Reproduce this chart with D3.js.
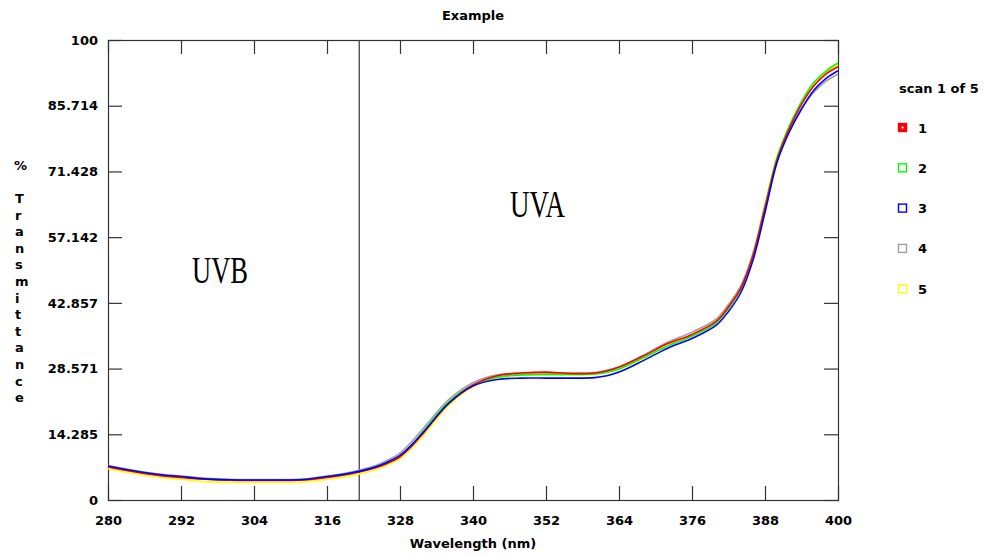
<!DOCTYPE html>
<html>
<head>
<meta charset="utf-8">
<title>Example</title>
<script src="https://cdn.jsdelivr.net/npm/d3@7"></script>
<style>
    body { margin: 0; background: #fff; }
    text { font-family: "DejaVu Sans", sans-serif; font-weight: bold; font-size: 13px; fill: #000; }
    .band { font-family: "Liberation Serif", serif; font-weight: normal; font-size: 38px; }
</style>
</head>
<body>
<script>
// wavelength grid (nm) shared by all scans
var wavelengths = [280, 284, 288, 292, 296, 300, 304, 308, 312, 316, 320, 324, 326, 328, 330, 332, 336, 340, 344, 348,
    352, 356, 360, 362, 364, 368, 372, 376, 380, 382, 384, 386, 388, 390, 392, 394, 396, 398, 400];

// % transmittance for each scan
var scan1 = [7.2, 6.2, 5.4, 4.9, 4.5, 4.3, 4.25, 4.25, 4.35, 4.9, 5.7, 7.0, 8.0, 9.4, 11.8, 14.8, 21.0, 25.0, 27.0, 27.6,
    27.8, 27.5, 27.6, 28.1, 28.9, 31.3, 34.0, 36.0, 38.9, 42.0, 46.0, 53.0, 63.5, 74.0, 80.8, 86.0, 90.0, 92.6, 94.2];
var scan2 = [7.3, 6.3, 5.5, 5.0, 4.5, 4.3, 4.3, 4.3, 4.35, 5.0, 5.8, 7.1, 8.2, 9.6, 12.1, 15.2, 21.3, 25.0, 26.7, 27.2,
    27.3, 27.3, 27.4, 27.8, 28.5, 30.9, 33.5, 35.6, 38.5, 41.7, 45.8, 53.0, 63.8, 74.5, 81.3, 86.6, 90.7, 93.2, 95.0];
var scan3 = [7.4, 6.4, 5.6, 5.1, 4.6, 4.4, 4.35, 4.35, 4.45, 5.1, 5.9, 7.2, 8.3, 9.7, 12.1, 15.0, 21.0, 24.8, 26.2, 26.5,
    26.5, 26.5, 26.6, 27.0, 27.8, 30.3, 33.0, 35.1, 38.0, 41.0, 45.0, 52.0, 62.5, 73.5, 80.0, 85.0, 89.0, 91.6, 93.3];
var scan4 = [7.5, 6.5, 5.7, 5.2, 4.7, 4.5, 4.45, 4.45, 4.55, 5.2, 6.1, 7.5, 8.7, 10.2, 12.8, 15.8, 21.8, 25.5, 27.2, 27.6,
    27.6, 27.6, 27.7, 28.2, 28.9, 31.5, 34.3, 36.5, 39.4, 42.5, 46.5, 53.5, 64.0, 74.0, 80.3, 85.0, 88.6, 91.0, 92.6];
var scan5 = [6.8, 5.8, 5.0, 4.5, 4.0, 3.85, 3.8, 3.8, 3.9, 4.5, 5.3, 6.6, 7.7, 9.0, 11.4, 14.3, 20.5, 24.6, 26.6, 27.1,
    27.2, 27.2, 27.3, 27.7, 28.4, 30.8, 33.6, 35.7, 38.7, 42.0, 46.2, 53.5, 64.3, 74.8, 81.2, 86.2, 90.2, 92.8, 94.5];

var scanNames = ["1", "2", "3", "4", "5"];
var scanColors = ["#ff0000", "#00ff00", "#0000ff", "#a0a0a0", "#ffff00"];
var drawOrder = [4, 3, 1, 0, 2];

// axis ticks as printed
var xTicks = [280, 292, 304, 316, 328, 340, 352, 364, 376, 388, 400];
var yTicks = [0, 14.285, 28.571, 42.857, 57.142, 71.428, 85.714, 100];
var yTickLabels = ["0", "14.285", "28.571", "42.857", "57.142", "71.428", "85.714", "100"];

// UVB / UVA boundary (nm)
var uvBoundary = 321.3;

setChart();

function setChart() {
    var width = 985,
        height = 555;

    var margin = { left: 108, right: 147, top: 40, bottom: 55 };
    var innerW = width - margin.left - margin.right,
        innerH = height - margin.top - margin.bottom;

    var svg = d3.select("body")
        .append("svg")
        .attr("width", width)
        .attr("height", height);

    var x = d3.scaleLinear().domain([280, 400]).range([margin.left, margin.left + innerW]);
    var y = d3.scaleLinear().domain([0, 100]).range([margin.top + innerH, margin.top]);

    // title
    svg.append("text")
        .attr("x", 473)
        .attr("y", 20)
        .attr("text-anchor", "middle")
        .text("Example");

    // plot frame
    svg.append("rect")
        .attr("x", margin.left + 0.5)
        .attr("y", margin.top + 0.5)
        .attr("width", innerW)
        .attr("height", innerH)
        .attr("fill", "none")
        .attr("stroke", "#333")
        .attr("stroke-width", 1.2);

    // axes with inward ticks on all four sides
    var bottom = svg.append("g")
        .attr("transform", "translate(0," + (margin.top + innerH) + ")")
        .call(d3.axisBottom(x).tickValues(xTicks).tickSize(-14).tickPadding(16).tickFormat(d3.format("d")));
    var left = svg.append("g")
        .attr("transform", "translate(" + margin.left + ",0)")
        .call(d3.axisLeft(y).tickValues(yTicks).tickSize(-14).tickPadding(10)
            .tickFormat(function(d, i) { return yTickLabels[i]; }));
    var top = svg.append("g")
        .attr("transform", "translate(0," + margin.top + ")")
        .call(d3.axisTop(x).tickValues(xTicks).tickSize(-14).tickFormat(""));
    var right = svg.append("g")
        .attr("transform", "translate(" + (margin.left + innerW) + ",0)")
        .call(d3.axisRight(y).tickValues(yTicks).tickSize(-14).tickFormat(""));

    [bottom, left, top, right].forEach(function(g) {
        g.select(".domain").remove();
        g.selectAll(".tick line").attr("stroke", "#333").attr("stroke-width", 1.2);
        g.selectAll(".tick text")
            .attr("fill", "#000")
            .style("font-family", "'DejaVu Sans', sans-serif")
            .style("font-weight", "bold")
            .style("font-size", "13px");
    });

    // x axis title
    svg.append("text")
        .attr("x", 473)
        .attr("y", 548)
        .attr("text-anchor", "middle")
        .text("Wavelength (nm)");

    // y axis title, one letter per line
    svg.append("text")
        .attr("x", 14)
        .attr("y", 170)
        .text("%");
    "Transmittance".split("").forEach(function(ch, i) {
        svg.append("text")
            .attr("x", 15)
            .attr("y", 203 + i * 16.6)
            .text(ch);
    });

    // UVB / UVA divider
    svg.append("line")
        .attr("x1", x(uvBoundary))
        .attr("x2", x(uvBoundary))
        .attr("y1", y(100))
        .attr("y2", y(0))
        .attr("stroke", "#444")
        .attr("stroke-width", 1.3);

    svg.append("text")
        .attr("class", "band")
        .attr("x", 192)
        .attr("y", 283)
        .attr("textLength", 56)
        .attr("lengthAdjust", "spacingAndGlyphs")
        .text("UVB");
    svg.append("text")
        .attr("class", "band")
        .attr("x", 510)
        .attr("y", 217)
        .attr("textLength", 55)
        .attr("lengthAdjust", "spacingAndGlyphs")
        .text("UVA");

    // scan lines
    var scans = [scan1, scan2, scan3, scan4, scan5];
    var line = d3.line()
        .x(function(d, i) { return x(wavelengths[i]); })
        .y(function(d) { return y(d); })
        .curve(d3.curveCatmullRom.alpha(0.5));

    drawOrder.forEach(function(k) {
        svg.append("path")
            .datum(scans[k])
            .attr("class", "scan s" + scanNames[k])
            .attr("fill", "none")
            .attr("stroke", scanColors[k])
            .attr("stroke-width", 1.6)
            .attr("d", line);
    });

    // legend
    svg.append("text")
        .attr("x", 899)
        .attr("y", 93)
        .text("scan 1 of 5");

    var legend = svg.selectAll(".legend")
        .data(scanNames)
        .enter()
        .append("g")
        .attr("class", "legend")
        .attr("transform", function(d, i) { return "translate(898," + (123 + i * 40.3) + ")"; });

    legend.append("rect")
        .attr("x", 0.5)
        .attr("y", 0.5)
        .attr("width", 8)
        .attr("height", 8)
        .attr("fill", function(d, i) { return i === 0 ? scanColors[i] : "#fff"; })
        .attr("stroke", function(d, i) { return scanColors[i]; })
        .attr("stroke-width", 1.4);

    // selected scan gets a white centre dot
    legend.filter(function(d, i) { return i === 0; })
        .append("rect")
        .attr("x", 3.5)
        .attr("y", 3.5)
        .attr("width", 2)
        .attr("height", 2)
        .attr("fill", "#fff");

    legend.append("text")
        .attr("x", 20)
        .attr("y", 9.5)
        .text(function(d) { return d; });
}
</script>
</body>
</html>
